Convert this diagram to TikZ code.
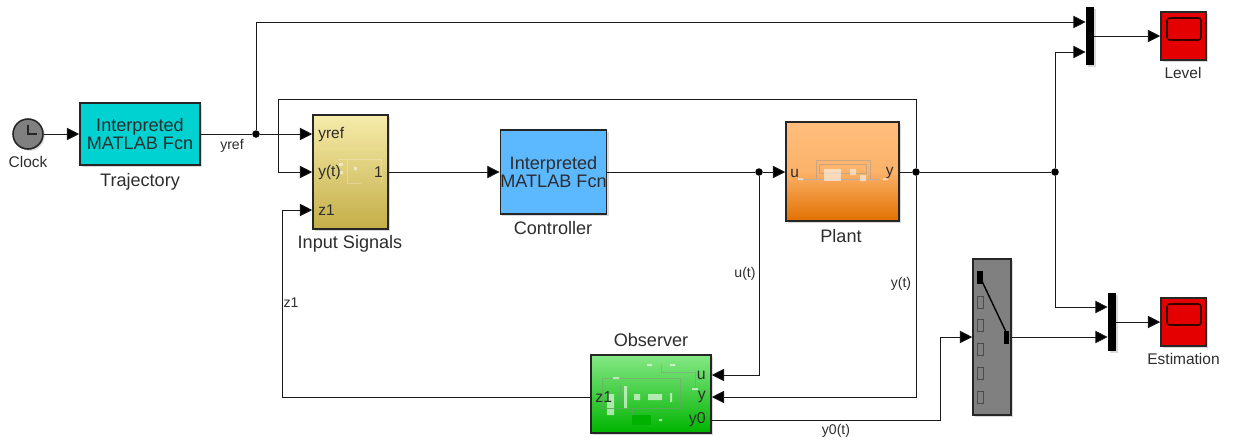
\documentclass[tikz,border=0pt]{standalone}
\usepackage{fontspec}
\setmainfont{Liberation Sans}
\usetikzlibrary{arrows.meta,shadows}

\definecolor{txtgray}{RGB}{45,45,45}
\tikzset{
  block/.style={draw=black!85,line width=0.9pt,inner sep=0pt,align=center,text=txtgray,
    font=\fontsize{10.3}{12}\selectfont,
    drop shadow={shadow xshift=1.2pt,shadow yshift=-1.2pt,opacity=0.3}},
  sig/.style={line width=0.5pt,draw=black!90,-{Triangle[length=7pt,width=7pt,fill=black]}},
  wire/.style={line width=0.5pt,draw=black!90},
  dot/.style={circle,fill=black,inner sep=0pt,minimum size=0.15cm},
  mux/.style={rectangle,fill=black,inner sep=0pt,minimum width=0.16cm,minimum height=1.16cm,
    drop shadow={shadow xshift=1.2pt,shadow yshift=-1.2pt,opacity=0.3}},
  scopebox/.style={block,fill=red!90!black,minimum width=0.9cm,minimum height=0.96cm},
  bigname/.style={text=txtgray,font=\fontsize{10.3}{12}\selectfont},
  smallname/.style={text=txtgray,font=\fontsize{8.8}{10}\selectfont},
  siglabel/.style={text=txtgray,font=\footnotesize},
  port/.style={text=txtgray,inner sep=0pt,font=\fontsize{8.8}{10}\selectfont},
  obsport/.style={text=txtgray,inner sep=0pt,font=\small},
  mini/.style={draw=white,opacity=0.25,line width=0.25pt},
}

\begin{document}
\begin{tikzpicture}[x=0.02cm,y=-0.02cm]

  \useasboundingbox (0,0) rectangle (1233,441);

  % Blocks
  \node[circle,draw=black!85,line width=0.9pt,fill=black!50,minimum size=0.6cm,inner sep=0pt,
    drop shadow={shadow xshift=1pt,shadow yshift=-1pt,opacity=0.3}] (clock) at (28,134) {};
  \node[block,fill={rgb,255:red,0;green,209;blue,209},minimum width=2.4cm,minimum height=1.24cm] (traj) at (140,134)
    {Interpreted\\[-2pt]MATLAB Fcn};
  \node[block,top color={rgb,255:red,246;green,236;blue,170},bottom color={rgb,255:red,196;green,174;blue,72},
    minimum width=1.5cm,minimum height=2.28cm] (isig) at (350.5,172) {};
  \node[block,fill={rgb,255:red,92;green,184;blue,255},minimum width=2.1cm,minimum height=1.68cm] (ctrl) at (553.5,172)
    {Interpreted\\[-2pt]MATLAB Fcn};
  \node[block,top color={rgb,255:red,255;green,190;blue,125},bottom color={rgb,255:red,224;green,112;blue,0},
    middle color={rgb,255:red,252;green,178;blue,105},minimum width=2.26cm,minimum height=1.98cm] (plant) at (842.5,171.5) {};
  \node[block,top color={rgb,255:red,133;green,232;blue,133},bottom color={rgb,255:red,0;green,180;blue,0},
    minimum width=2.4cm,minimum height=1.56cm] (obs) at (651,394) {};
  \node[block,fill=black!50,minimum width=0.76cm,minimum height=3.12cm] (sw) at (992,337) {};
  \node[mux] (muxa) at (1090,36) {};
  \node[mux] (muxb) at (1112,322) {};
  \node[scopebox] (lvl) at (1183.5,36) {};
  \node[scopebox] (est) at (1183.5,322) {};

  % Clock face
  \draw[black!85,line width=0.6pt] (28,125) -- (28,134) -- (37,134);

  % Scope screens
  \draw[line width=0.9pt,rounded corners=1.5pt,draw=black!80!red] (1167,18) rectangle (1201,40);
  \draw[line width=0.9pt,rounded corners=1.5pt,draw=black!80!red] (1167,304) rectangle (1201,325);

  % Switch contacts
  \fill (977,271) rectangle (983,284);
  \fill (1004,331) rectangle (1009,344);
  \draw[line width=0.8pt] (980,277) -- (1006,332);
  \foreach \c in {302,325,349,373,397}
    \draw[black!70,line width=0.5pt] (977,\c-6) rectangle (983,\c+6);

  % Subsystem previews
  \draw[mini] (347,159) -- (347,183) -- (361,183) (338,159) -- (381,159) -- (381,183);
  \fill[white,opacity=0.5] (339,163) rectangle (343,166) (339,171) rectangle (343,174) (354,167) rectangle (357,170);
  \draw[draw=black!40,opacity=0.5,line width=0.25pt] (816,160) rectangle (870,179) (819,164) rectangle (866,173);
  \draw[draw=black!30,line width=0.3pt] (800,179) -- (880,179);
  \fill[white,opacity=0.55] (824,169) rectangle (841,181);
  \fill[white,opacity=0.55] (850,169) rectangle (856,175) (860,175) rectangle (866,181)
    (798,178) rectangle (803,180) (883,178) rectangle (888,180);
  \draw[draw=black!45,line width=0.25pt,opacity=0.45] (602,378) rectangle (680,408) (632,408) -- (632,420) -- (651,420)
    (661,365) -- (661,372) -- (695,372) -- (695,389) (620,385) -- (620,405);
  \fill[white,opacity=0.6] (607,394) rectangle (614,408) (607,409) rectangle (614,415) (624,386) rectangle (627,408)
    (634,394) rectangle (640,400) (648,394) rectangle (662,400) (670,393) rectangle (672,402)
    (613,377) rectangle (619,379) (647,364) rectangle (652,366) (670,364) rectangle (675,366) (692,388) rectangle (698,390)
    (659,419) rectangle (662,421);
  \fill[green!70!black] (632,415) rectangle (651,425);

  % Port labels
  \node[port,anchor=west] (pyref) at (318,134) {yref};
  \node[port,anchor=west] (pyt) at (318,172) {y(t)};
  \node[port,anchor=west] (pz) at (318,210) {z1};
  \node[port,anchor=east] (pone) at (383,172) {1};
  \node[port,anchor=west] (pu) at (790,173) {u};
  \node[port,anchor=east] (py) at (894,173) {y};
  \node[obsport,anchor=west] (oz) at (595,397) {z1};
  \node[obsport,anchor=east] (ou) at (706,375) {u};
  \node[obsport,anchor=east] (oy) at (706,397) {y};
  \node[obsport,anchor=east] (oo) at (706,420) {y0};

  % Block names
  \node[smallname] (clockname) at (28,162) {Clock};
  \node[bigname] (trajname) at (140,181.5) {Trajectory};
  \node[bigname] (isigname) at (350,244) {Input Signals};
  \node[bigname] (ctrlname) at (553,228) {Controller};
  \node[bigname] (plantname) at (841,236) {Plant};
  \node[bigname] (obsname) at (651,340) {Observer};
  \node[smallname] (lvlname) at (1183,73) {Level};
  \node[smallname] (estname) at (1183.5,359) {Estimation};

  % Signal labels
  \node[siglabel] (yreflab) at (232,146) {yref};
  \node[siglabel] (zlab) at (291,303) {z1};
  \node[siglabel] (ulab) at (745,274) {u(t)};
  \node[siglabel] (ylab) at (901,284) {y(t)};
  \node[siglabel] (yolab) at (836,431) {y0(t)};

  % Junctions
  \node[dot] (jref) at (256,134) {};
  \node[dot] (ju) at (759,172) {};
  \node[dot] (jy) at (916,172) {};
  \node[dot] (jout) at (1055,172) {};

  % Ports on the block edges
  \coordinate (inref) at (isig.west |- jref);
  \coordinate (iny) at (isig.west |- jy);
  \coordinate (inz) at (isig.west |- 0,210);
  \coordinate (obsu) at (obs.east |- 0,375);
  \coordinate (obsy) at (obs.east |- 0,397);
  \coordinate (obso) at (obs.east |- 0,420);
  \coordinate (obsz) at (obs.west |- 0,397);
  \coordinate (muxaa) at (muxa.west |- 0,22);
  \coordinate (muxab) at (muxa.west |- 0,52);
  \coordinate (muxba) at (muxb.west |- 0,307);
  \coordinate (muxbb) at (muxb.west |- sw.east);
  \coordinate (fbtop) at (278,99);
  \coordinate (fbin) at (278,172);
  \coordinate (zcorner) at (282,397);
  \coordinate (ocorner) at (940,420);

  % Connectors
  \draw[sig] (clock) -- (traj);
  \draw[wire] (traj) -- (jref);
  \draw[sig] (jref) -- (inref);
  \draw[sig] (jref) |- (muxaa);
  \draw[sig] (jy) |- (fbtop) -- (fbin) -- (iny);
  \draw[sig] (isig) -- (ctrl);
  \draw[wire] (ctrl) -- (ju);
  \draw[sig] (ju) -- (plant.west |- ju);
  \draw[sig] (ju) |- (obsu);
  \draw[wire] (plant.east |- jy) -- (jy);
  \draw[wire] (jy) -- (jout);
  \draw[sig] (jy) |- (obsy);
  \draw[sig] (jout) |- (muxab);
  \draw[sig] (jout) |- (muxba);
  \draw[sig] (obsz) -- (zcorner) |- (inz);
  \draw[sig] (obso) -- (ocorner) |- (sw.west);
  \draw[sig] (sw.east) -- (muxbb);
  \draw[sig] (muxa) -- (lvl);
  \draw[sig] (muxb) -- (est);

\end{tikzpicture}
\end{document}
